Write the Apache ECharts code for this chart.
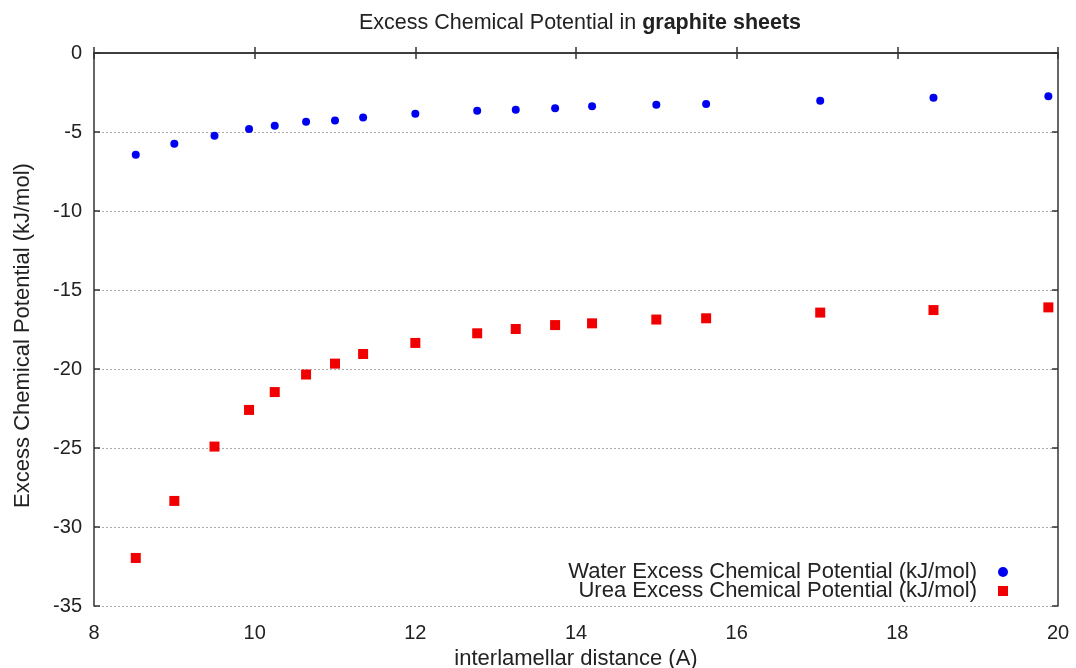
<!DOCTYPE html>
<html>
<head>
<meta charset="utf-8">
<script src="https://cdn.jsdelivr.net/npm/echarts@6/dist/echarts.min.js"></script>
<style>html,body{margin:0;padding:0;background:#fff;}#c{width:1076px;height:668px;}</style>
</head>
<body>
<div id="c"></div>
<script>
const distances = [8.52, 9.0, 9.5, 9.93, 10.25, 10.64, 11.0, 11.35, 12.0, 12.77, 13.25, 13.74, 14.2, 15.0, 15.62, 17.04, 18.45, 19.88];
const waterMu = [-6.44, -5.74, -5.23, -4.81, -4.60, -4.35, -4.28, -4.09, -3.84, -3.65, -3.59, -3.50, -3.37, -3.28, -3.22, -3.02, -2.84, -2.73];
const ureaMu = [-31.96, -28.35, -24.91, -22.59, -21.46, -20.35, -19.66, -19.05, -18.35, -17.74, -17.47, -17.22, -17.11, -16.87, -16.79, -16.43, -16.27, -16.10];
const waterName = 'Water Excess Chemical Potential (kJ/mol)';
const ureaName = 'Urea Excess Chemical Potential (kJ/mol)';

const font = '"Liberation Sans", Arial, sans-serif';
const txt = '#222';
const chart = echarts.init(document.getElementById('c'), null, {renderer: 'canvas'});
const pair = (xs, ys) => xs.map((x, i) => [x, ys[i]]);
const frame = {show: true, lineStyle: {color: '#333', width: 1.5}};
const tick = {show: true, inside: true, length: 6, lineStyle: {color: '#333', width: 1.5}};
chart.setOption({
  animation: false,
  backgroundColor: '#fff',
  textStyle: {fontFamily: font},
  title: {
    text: 'Excess Chemical Potential in {b|graphite sheets}',
    left: 575, top: 7, textAlign: 'center',
    textStyle: {fontFamily: font, fontSize: 21.5, fontWeight: 'normal', color: txt,
      rich: {b: {fontFamily: font, fontSize: 21.5, fontWeight: 'bold', color: txt}}}
  },
  grid: {left: 94, right: 18, top: 53, bottom: 62, outerBoundsMode: 'none', containLabel: false},
  legend: [
    {data: [waterName], orient: 'vertical', align: 'right', right: 63, top: 556, itemWidth: 10, itemHeight: 10,
      textStyle: {fontFamily: font, fontSize: 22, color: txt, padding: [0, 16, 0, 0]}},
    {data: [ureaName], orient: 'vertical', align: 'right', right: 63, top: 575, itemWidth: 10, itemHeight: 10,
      textStyle: {fontFamily: font, fontSize: 22, color: txt, padding: [0, 16, 0, 0]}}
  ],
  xAxis: [
    {type: 'value', min: 8, max: 20, interval: 2, position: 'bottom',
      name: 'interlamellar distance (A)', nameLocation: 'middle', nameGap: 40,
      nameTextStyle: {fontFamily: font, fontSize: 22, color: txt},
      axisLine: frame, axisTick: tick,
      axisLabel: {fontFamily: font, fontSize: 20, color: txt, margin: 17},
      splitLine: {show: false}},
    {type: 'value', min: 8, max: 20, interval: 2, position: 'top',
      axisLine: frame, axisTick: tick,
      axisLabel: {show: false}, splitLine: {show: false}}
  ],
  yAxis: [
    {type: 'value', min: -35, max: 0, interval: 5, position: 'left',
      name: 'Excess Chemical Potential (kJ/mol)', nameLocation: 'middle', nameGap: 60,
      nameTextStyle: {fontFamily: font, fontSize: 22, color: txt, padding: [0, 12, 0, 0]},
      axisLine: frame, axisTick: tick,
      axisLabel: {fontFamily: font, fontSize: 20, color: txt, margin: 12},
      splitLine: {show: true, lineStyle: {color: '#aaa', width: 1, type: [2, 2]}}},
    {type: 'value', min: -35, max: 0, interval: 5, position: 'right',
      axisLine: frame, axisTick: tick,
      axisLabel: {show: false}, splitLine: {show: false}}
  ],
  series: [
    {name: waterName, type: 'scatter', xAxisIndex: 0, yAxisIndex: 0, symbol: 'circle', symbolSize: 8,
      itemStyle: {color: '#0000f0', opacity: 1}, data: pair(distances, waterMu)},
    {name: ureaName, type: 'scatter', xAxisIndex: 0, yAxisIndex: 0, symbol: 'rect', symbolSize: 10,
      itemStyle: {color: '#f00000', opacity: 1}, data: pair(distances, ureaMu)}
  ]
});
</script>
</body>
</html>
